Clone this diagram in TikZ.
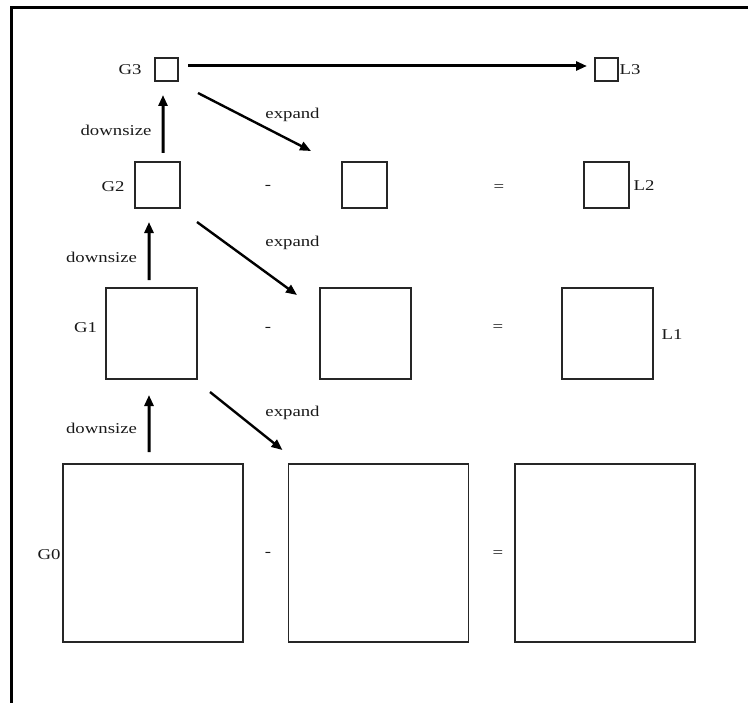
\documentclass[tikz,border=0pt]{standalone}
\usepackage{fontspec}
\setmainfont[FakeStretch=1.25]{Liberation Serif}
\usetikzlibrary{arrows.meta}
\begin{document}
\begin{tikzpicture}[x=1bp,y=-1bp,
  img/.style={draw=black!85,line width=1.3bp,fill=white,inner sep=0pt,outer sep=0pt},
  lbl/.style={inner sep=0pt,text=black!90,font=\fontsize{15bp}{17bp}\selectfont},
  op/.style={inner sep=0pt,text=black!90,font=\fontsize{15bp}{17bp}\selectfont},
  arr/.style={line width=3bp,-{Triangle[length=11bp,width=9bp]}},
  exarr/.style={line width=2.4bp,-{Triangle[length=11bp,width=9bp]}}]
\useasboundingbox (0,0) rectangle (748,703);
% outer frame (open at the right and bottom)
\draw[line width=3bp] (11.5,703) -- (11.5,7.5) -- (748,7.5);

% level 3
\node[img,minimum width=23bp,minimum height=23bp] (g3) at (166.5,69.5) {};
\node[img,minimum width=23bp,minimum height=23bp] (l3) at (606.5,69.5) {};
\node[lbl] (g3t) at (130,70) {G3};
\node[lbl,anchor=west] (l3t) at (619.5,70) {L3};

% level 2
\node[img,minimum width=45bp,minimum height=46bp] (g2) at (157.5,185) {};
\node[img,minimum width=45bp,minimum height=46bp] (m2) at (364.5,185) {};
\node[img,minimum width=45bp,minimum height=46bp] (l2) at (606.5,185) {};
\node[lbl] (g2t) at (113,187) {G2};
\node[lbl] (l2t) at (644,186) {L2};
\node[op] (mi2) at (268,187) {-};
\node[op] (eq2) at (499,188) {=};

% level 1
\node[img,minimum width=91bp,minimum height=91bp] (g1) at (151.5,333.5) {};
\node[img,minimum width=91bp,minimum height=91bp] (m1) at (365.5,333.5) {};
\node[img,minimum width=91bp,minimum height=91bp] (l1) at (607.5,333.5) {};
\node[lbl] (g1t) at (85.5,328) {G1};
\node[lbl] (l1t) at (672,335) {L1};
\node[op] (mi1) at (268,329) {-};
\node[op] (eq1) at (498,328) {=};

% level 0
\node[img,minimum width=180bp,minimum height=178bp] (g0) at (153,553) {};
\node[img,minimum width=180bp,minimum height=178bp] (m0) at (378.5,553) {};
\node[img,minimum width=180bp,minimum height=178bp] (r0) at (605,553) {};
\node[lbl] (g0t) at (49,555) {G0};
\node[op] (mi0) at (268,554) {-};
\node[op] (eq0) at (498,554) {=};

% top-level copy
\draw[arr] ([xshift=10bp,yshift=3.5bp]g3.east) -- ([xshift=-8bp,yshift=3.5bp]l3.west);

% downsize steps
\draw[arr] ([xshift=5.5bp,yshift=9bp]g2.north) -- ([xshift=-3.5bp,yshift=-14bp]g3.south);
\draw[arr] ([xshift=-2.5bp,yshift=8bp]g1.north) -- ([xshift=-8.5bp,yshift=-14bp]g2.south);
\draw[arr] ([xshift=-4bp,yshift=12bp]g0.north) -- ([xshift=-2.5bp,yshift=-16bp]g1.south);
\node[lbl] (d3) at (116,130) {downsize};
\node[lbl] (d2) at (101.5,257) {downsize};
\node[lbl] (d1) at (101.5,428) {downsize};

% expand steps
\draw[exarr] ([xshift=20bp,yshift=-12bp]g3.south east) -- ([xshift=-31bp,yshift=11bp]m2.north west);
\draw[exarr] ([xshift=17bp,yshift=-14bp]g2.south east) -- ([xshift=-23bp,yshift=-7bp]m1.north west);
\draw[exarr] ([xshift=13bp,yshift=-13bp]g1.south east) -- ([xshift=-6bp,yshift=14bp]m0.north west);
\node[lbl] (e3) at (292.5,115) {expand};
\node[lbl] (e2) at (292.5,243) {expand};
\node[lbl] (e1) at (292.5,413) {expand};
\end{tikzpicture}
\end{document}
